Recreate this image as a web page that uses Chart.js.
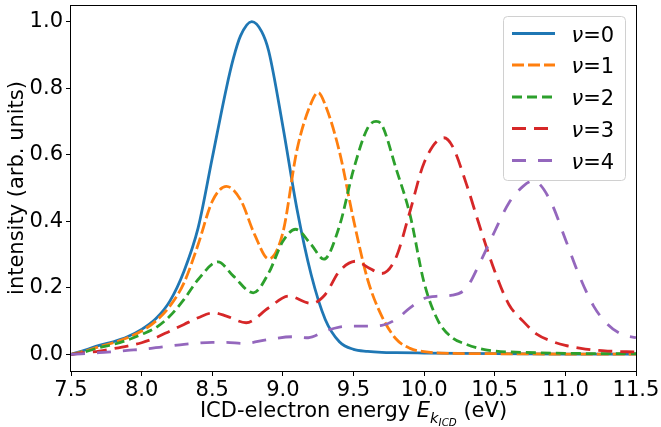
<!DOCTYPE html>
<html>
<head>
<meta charset="utf-8">
<script src="https://cdn.jsdelivr.net/npm/chart.js@4/dist/chart.umd.min.js"></script>
<style>
  html, body { margin: 0; padding: 0; background: #fff; }
  #wrap { width: 661px; height: 427px; }
</style>
</head>
<body>
<div id="wrap"><canvas id="c" width="661" height="427"></canvas></div>
<script>
// ---- data ----
const seriesLabels = ['0', '1', '2', '3', '4'];
const seriesColors = ['#1f77b4', '#ff7f0e', '#2ca02c', '#d62728', '#9467bd'];

const xTicks = [7.5, 8.0, 8.5, 9.0, 9.5, 10.0, 10.5, 11.0, 11.5];
const yTicks = [0.0, 0.2, 0.4, 0.6, 0.8, 1.0];

// nu = 0
const energy0 = [7.5, 7.6, 7.7, 7.8, 7.9, 8.0, 8.1, 8.2, 8.3, 8.4, 8.5, 8.6, 8.65, 8.7, 8.78, 8.85, 8.9, 9.0, 9.1, 9.2, 9.3, 9.4, 9.5, 9.6, 9.7, 9.8, 10.0, 10.5, 11.0, 11.5];
const intensity0 = [0, 0.013, 0.027, 0.038, 0.053, 0.075, 0.107, 0.16, 0.25, 0.38, 0.59, 0.80, 0.89, 0.957, 1.0, 0.97, 0.911, 0.685, 0.436, 0.24, 0.105, 0.038, 0.015, 0.009, 0.006, 0.005, 0.004, 0.002, 0.001, 0.001];

// nu = 1
const energy1 = [7.5, 7.6, 7.7, 7.8, 7.9, 8.0, 8.1, 8.2, 8.3, 8.4, 8.5, 8.6, 8.7, 8.8, 8.9, 9.0, 9.1, 9.2, 9.25, 9.3, 9.4, 9.5, 9.6, 9.7, 9.8, 9.9, 10.0, 10.2, 10.5, 11.0, 11.5];
const intensity1 = [0, 0.01, 0.023, 0.035, 0.05, 0.07, 0.10, 0.145, 0.215, 0.33, 0.46, 0.505, 0.465, 0.36, 0.287, 0.366, 0.615, 0.755, 0.787, 0.75, 0.61, 0.405, 0.225, 0.115, 0.047, 0.018, 0.008, 0.003, 0.002, 0.001, 0.001];

// nu = 2
const energy2 = [7.5, 7.6, 7.7, 7.8, 7.9, 8.0, 8.1, 8.2, 8.3, 8.4, 8.54, 8.65, 8.79, 8.9, 9.0, 9.09, 9.2, 9.29, 9.4, 9.5, 9.6, 9.66, 9.7, 9.8, 9.9, 10.0, 10.1, 10.2, 10.3, 10.4, 10.5, 10.7, 11.0, 11.5];
const intensity2 = [0, 0.008, 0.02, 0.03, 0.043, 0.06, 0.08, 0.115, 0.165, 0.225, 0.278, 0.235, 0.185, 0.245, 0.34, 0.376, 0.33, 0.286, 0.385, 0.555, 0.68, 0.70, 0.69, 0.56, 0.42, 0.215, 0.10, 0.05, 0.03, 0.017, 0.01, 0.006, 0.003, 0.002];

// nu = 3
const energy3 = [7.5, 7.6, 7.7, 7.8, 7.9, 8.0, 8.1, 8.2, 8.3, 8.4, 8.51, 8.6, 8.74, 8.9, 9.04, 9.2, 9.3, 9.4, 9.52, 9.6, 9.7, 9.8, 9.9, 10.0, 10.14, 10.2, 10.3, 10.4, 10.5, 10.6, 10.7, 10.8, 10.9, 11.0, 11.1, 11.2, 11.3, 11.5];
const intensity3 = [0, 0.005, 0.01, 0.017, 0.025, 0.035, 0.05, 0.07, 0.09, 0.11, 0.125, 0.115, 0.095, 0.14, 0.175, 0.153, 0.18, 0.25, 0.28, 0.262, 0.243, 0.29, 0.43, 0.576, 0.651, 0.626, 0.511, 0.376, 0.25, 0.15, 0.10, 0.06, 0.04, 0.027, 0.019, 0.013, 0.01, 0.007];

// nu = 4
const energy4 = [7.5, 7.6, 7.7, 7.8, 7.9, 8.0, 8.1, 8.2, 8.3, 8.4, 8.5, 8.6, 8.72, 8.9, 9.07, 9.18, 9.3, 9.4, 9.5, 9.6, 9.7, 9.8, 9.9, 10.0, 10.1, 10.2, 10.3, 10.4, 10.5, 10.6, 10.7, 10.77, 10.8, 10.9, 11.0, 11.1, 11.2, 11.3, 11.4, 11.5];
const intensity4 = [0, 0.002, 0.005, 0.008, 0.012, 0.015, 0.02, 0.025, 0.03, 0.034, 0.036, 0.036, 0.033, 0.045, 0.053, 0.05, 0.07, 0.082, 0.085, 0.085, 0.087, 0.105, 0.14, 0.168, 0.175, 0.178, 0.20, 0.28, 0.37, 0.455, 0.505, 0.521, 0.518, 0.456, 0.346, 0.235, 0.145, 0.09, 0.06, 0.05];

const energies = [energy0, energy1, energy2, energy3, energy4];
const intensities = [intensity0, intensity1, intensity2, intensity3, intensity4];

// ---- styles ----
const dashes = [[], [12, 4], [10, 5], [14, 8], [14, 12]];
const FONT = 'DejaVu Sans';
const FS = 21;

const datasets = seriesLabels.map((lab, i) => ({
  label: 'ν=' + lab,
  data: energies[i].map((x, k) => ({ x: x, y: intensities[i][k] })),
  borderColor: seriesColors[i],
  backgroundColor: seriesColors[i],
  borderWidth: 2.8,
  borderDash: dashes[i],
  borderCapStyle: 'butt',
  borderJoinStyle: 'round',
  pointRadius: 0,
  fill: false,
  cubicInterpolationMode: 'monotone',
  order: 4 - i
}));

const decorPlugin = {
  id: 'decor',
  afterDraw(chart) {
    const ctx = chart.ctx;
    const a = chart.chartArea;
    ctx.save();
    // frame (spines)
    ctx.strokeStyle = '#000';
    ctx.lineWidth = 1;
    ctx.setLineDash([]);
    ctx.strokeRect(Math.round(a.left) - 0.5, Math.round(a.top) + 0.5, Math.round(a.right - a.left) + 1, Math.round(a.bottom - a.top));

    // x-axis title with sub/sub-subscript
    const segs = [
      { t: 'ICD-electron energy ', f: FS + 'px ' + FONT, dy: 0 },
      { t: 'E', f: 'italic ' + FS + 'px ' + FONT, dy: 0 },
      { t: 'k', f: 'italic 14.7px ' + FONT, dy: 6.5 },
      { t: 'ICD', f: 'italic 10.3px ' + FONT, dy: 9.5 },
      { t: ' (eV)', f: FS + 'px ' + FONT, dy: 0 }
    ];
    let total = 0;
    segs.forEach(s => { ctx.font = s.f; s.w = ctx.measureText(s.t).width; total += s.w; });
    let x = (a.left + a.right) / 2 - total / 2;
    const base = 416.5;
    ctx.fillStyle = '#000';
    ctx.textBaseline = 'alphabetic';
    ctx.textAlign = 'left';
    segs.forEach(s => { ctx.font = s.f; ctx.fillText(s.t, x, base + s.dy); x += s.w; });

    // legend
    const lx = 503.5, ly = 16.5, lw = 122, lh = 164;
    ctx.beginPath();
    ctx.roundRect(lx, ly, lw, lh, 4);
    ctx.fillStyle = 'rgba(255,255,255,0.8)';
    ctx.fill();
    ctx.strokeStyle = '#d0d0d0';
    ctx.lineWidth = 1;
    ctx.stroke();
    const rowY = [33.5, 65, 97, 128.5, 160.5];
    const textBase = [41.5, 73, 105, 136.5, 168.5];
    seriesLabels.forEach((lab, i) => {
      ctx.beginPath();
      ctx.setLineDash(dashes[i]);
      ctx.lineCap = 'butt';
      ctx.strokeStyle = seriesColors[i];
      ctx.lineWidth = 2.8;
      ctx.moveTo(512, rowY[i]);
      ctx.lineTo(555, rowY[i]);
      ctx.stroke();
      ctx.setLineDash([]);
      ctx.fillStyle = '#000';
      ctx.font = 'italic ' + FS + 'px ' + FONT;
      ctx.fillText('ν', 571.5, textBase[i]);
      const w = ctx.measureText('ν').width;
      ctx.font = FS + 'px ' + FONT;
      ctx.fillText('=' + lab, 571.5 + w, textBase[i]);
    });
    ctx.restore();
  }
};

Chart.defaults.font.family = FONT;
Chart.defaults.font.size = FS;
Chart.defaults.color = '#000';

new Chart(document.getElementById('c'), {
  type: 'line',
  data: { datasets: datasets },
  options: {
    responsive: false,
    animation: false,
    devicePixelRatio: 1,
    layout: { padding: { top: 5, right: 25, left: 0, bottom: 0 } },
    plugins: { legend: { display: false }, tooltip: { enabled: false } },
    scales: {
      x: {
        type: 'linear',
        min: 7.5, max: 11.5,
        afterBuildTicks(scale) { scale.ticks = xTicks.map(v => ({ value: v })); },
        afterFit(scale) { scale.height = 56; scale.paddingLeft = 0; scale.paddingRight = 0; },
        ticks: { autoSkip: false, maxRotation: 0, padding: 2, callback: v => Number(v).toFixed(1), font: { size: FS } },
        grid: { drawOnChartArea: false, drawTicks: true, tickLength: 5, tickColor: '#000', tickWidth: 1 },
        border: { display: false }
      },
      y: {
        type: 'linear',
        min: -0.05, max: 1.05,
        afterBuildTicks(scale) { scale.ticks = yTicks.map(v => ({ value: v })); },
        afterFit(scale) { scale.width = 71; scale.paddingTop = 0; scale.paddingBottom = 0; },
        ticks: { autoSkip: false, padding: 3, callback: v => Number(v).toFixed(1), font: { size: FS } },
        grid: { drawOnChartArea: false, drawTicks: true, tickLength: 5, tickColor: '#000', tickWidth: 1 },
        border: { display: false },
        title: { display: true, text: 'intensity (arb. units)', font: { size: FS }, padding: { top: 4.5, bottom: 0 } }
      }
    }
  },
  plugins: [decorPlugin]
});
</script>
</body>
</html>
